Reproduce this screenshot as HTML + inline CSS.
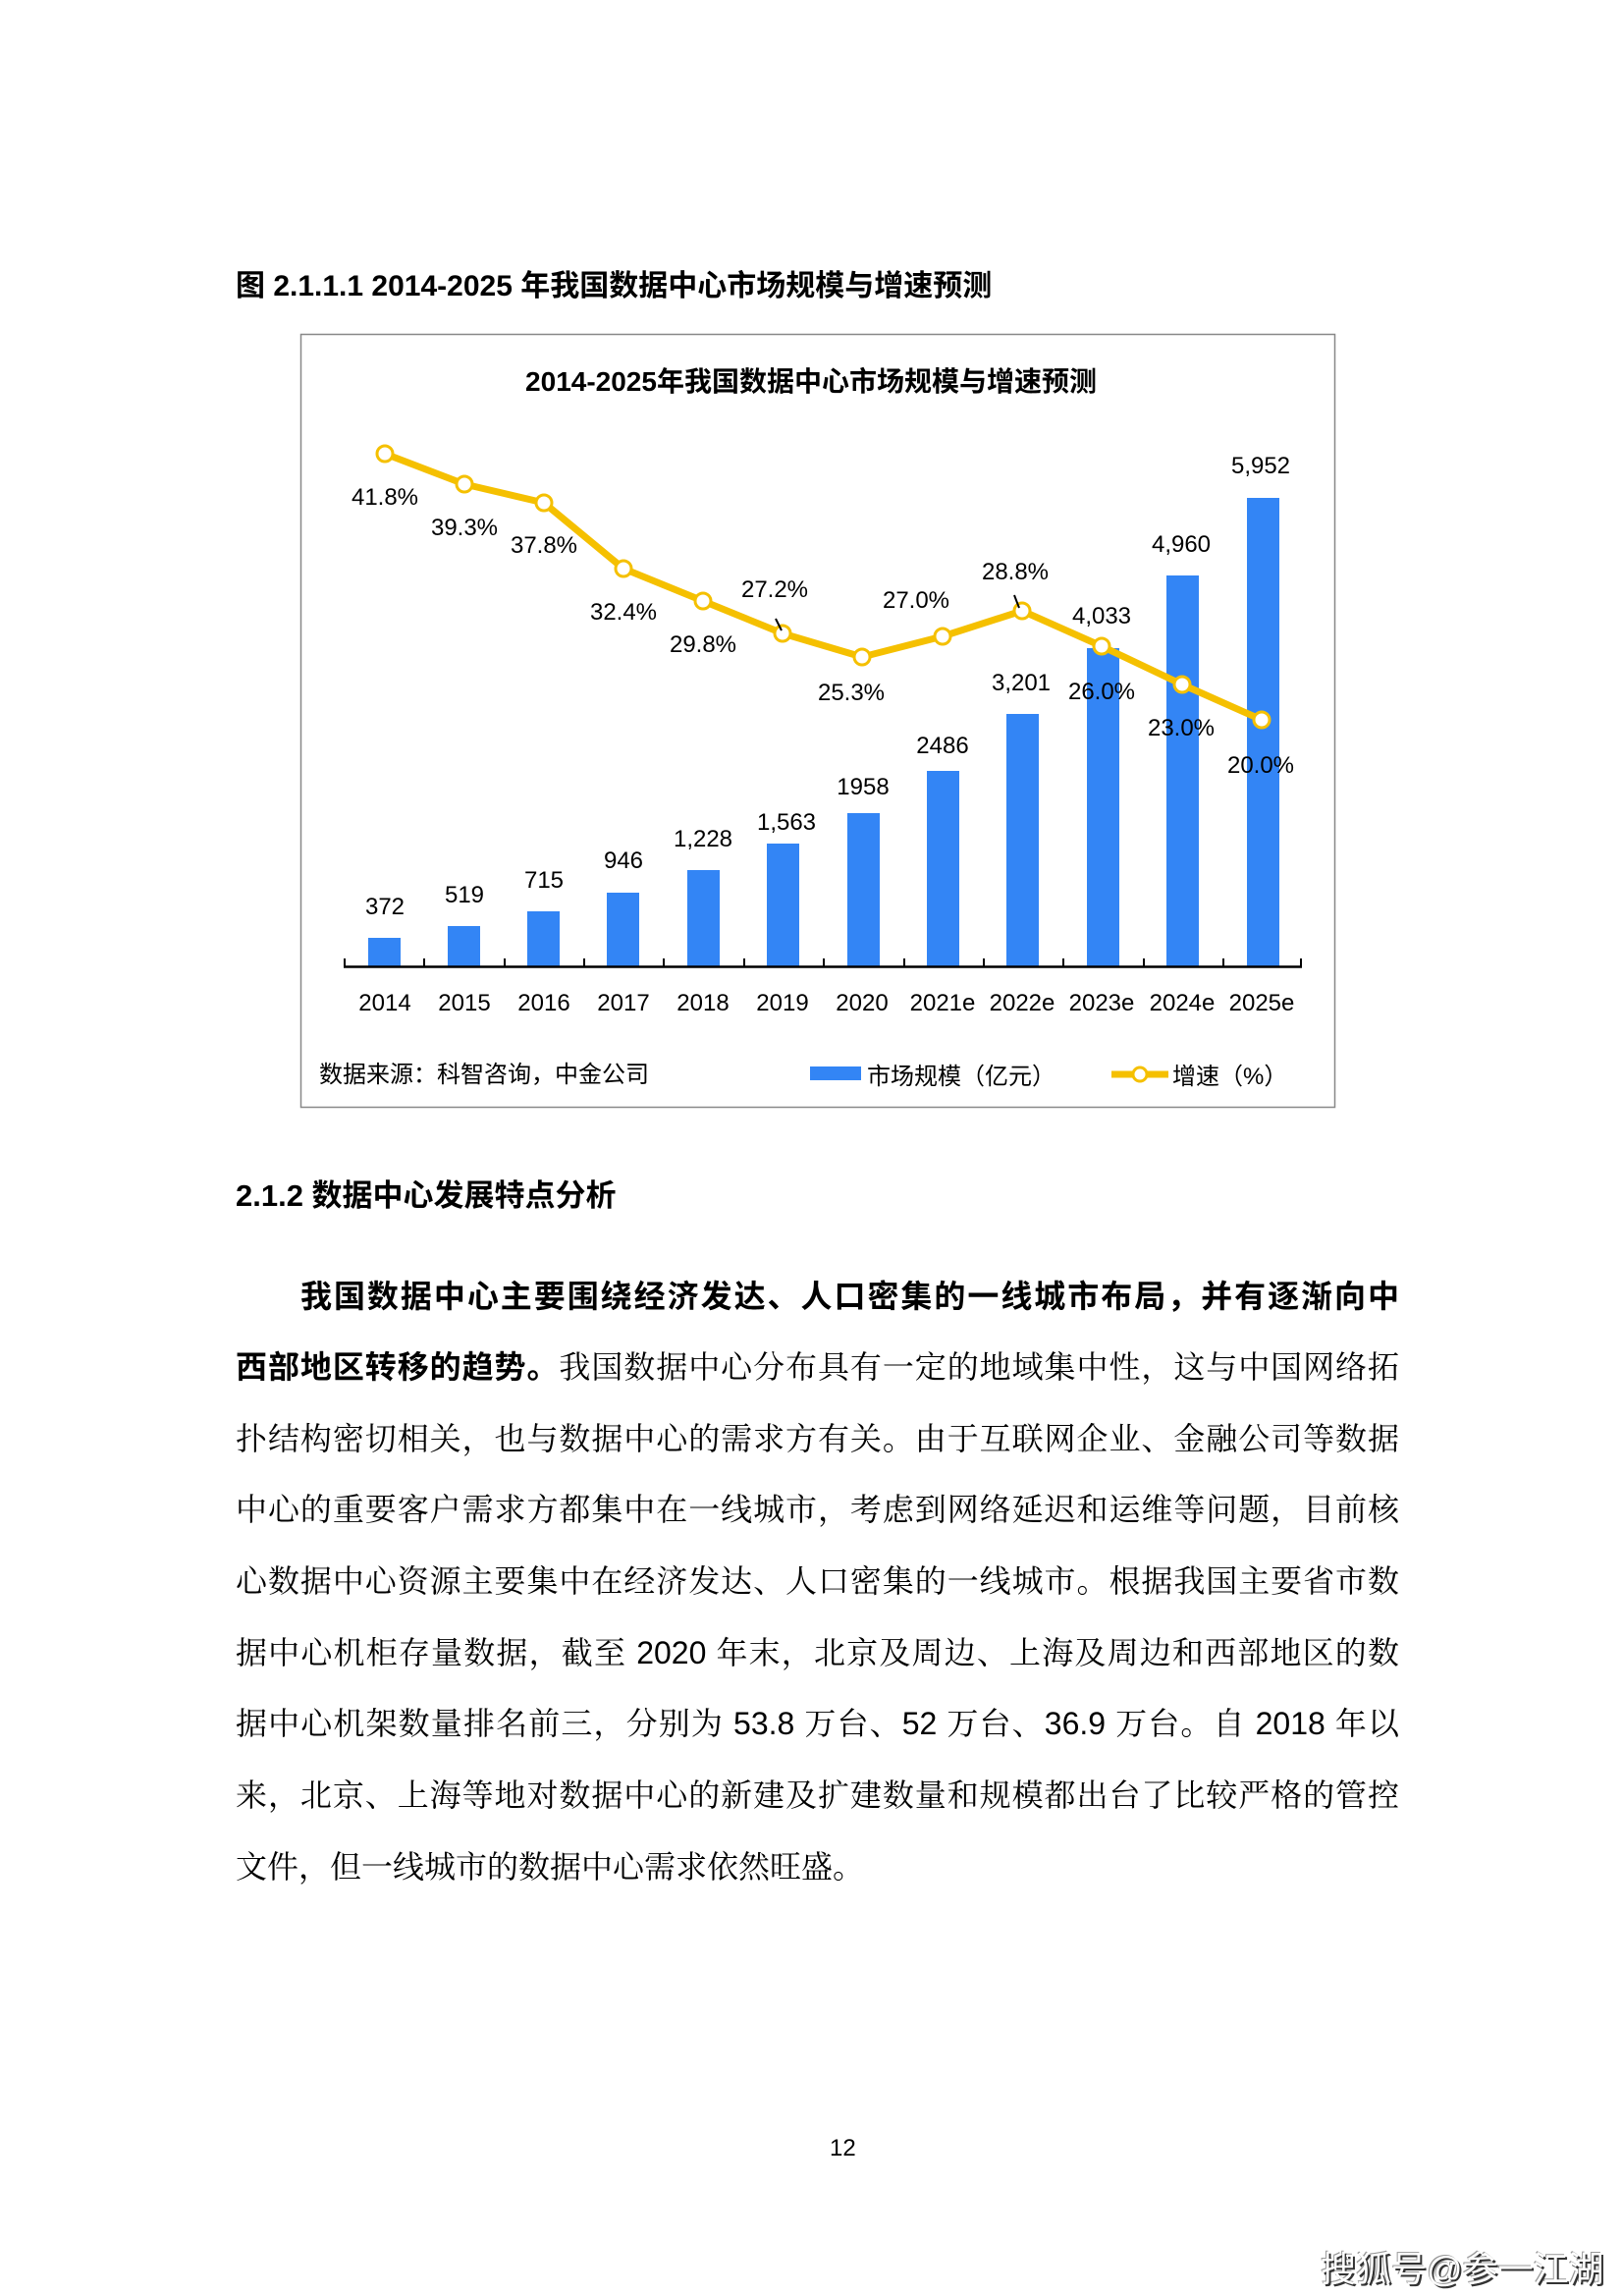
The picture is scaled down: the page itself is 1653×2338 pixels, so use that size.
<!DOCTYPE html>
<html><head><meta charset="utf-8">
<style>
html,body{margin:0;padding:0;background:#fff;}
body{width:1653px;height:2338px;position:relative;overflow:hidden;font-family:"Liberation Sans","Noto Sans CJK SC",sans-serif;color:#000;}
.abs{position:absolute;white-space:nowrap;}
.p{position:absolute;left:240px;width:1185px;font-family:"Liberation Sans","Noto Serif CJK SC",serif;font-size:32px;text-align:justify;text-align-last:justify;white-space:nowrap;line-height:40px;}
b{font-family:"Liberation Sans","Noto Sans CJK SC",sans-serif;font-weight:bold;}
</style></head><body>
<div class="abs" style="left:240px;top:266px;font-size:30px;font-weight:bold;">图 2.1.1.1 2014-2025 年我国数据中心市场规模与增速预测</div>

<svg class="abs" style="left:0;top:0" width="1653" height="1200" xmlns="http://www.w3.org/2000/svg" font-family="Liberation Sans, Noto Sans CJK SC, sans-serif">
<rect x="306.5" y="340.5" width="1053" height="787" fill="#fff" stroke="#888" stroke-width="1.5"/>
<text x="826" y="398" font-size="28" font-weight="bold" text-anchor="middle">2014-2025年我国数据中心市场规模与增速预测</text>
<g fill="#3385f5">
<rect x="375" y="955" width="33" height="29"/>
<rect x="456" y="943" width="33" height="41"/>
<rect x="537" y="928" width="33" height="56"/>
<rect x="618" y="909" width="33" height="75"/>
<rect x="700" y="886" width="33" height="98"/>
<rect x="781" y="859" width="33" height="125"/>
<rect x="863" y="828" width="33" height="156"/>
<rect x="944" y="785" width="33" height="199"/>
<rect x="1025" y="727" width="33" height="257"/>
<rect x="1107" y="660" width="33" height="324"/>
<rect x="1188" y="586" width="33" height="398"/>
<rect x="1270" y="507" width="33" height="477"/>
</g>
<line x1="350" y1="984.5" x2="1326" y2="984.5" stroke="#000" stroke-width="2.5"/>
<g stroke="#000" stroke-width="2">
<line x1="351" y1="976" x2="351" y2="985"/><line x1="432" y1="976" x2="432" y2="985"/><line x1="514" y1="976" x2="514" y2="985"/><line x1="595" y1="976" x2="595" y2="985"/><line x1="676" y1="976" x2="676" y2="985"/><line x1="758" y1="976" x2="758" y2="985"/><line x1="839" y1="976" x2="839" y2="985"/><line x1="921" y1="976" x2="921" y2="985"/><line x1="1002" y1="976" x2="1002" y2="985"/><line x1="1083" y1="976" x2="1083" y2="985"/><line x1="1165" y1="976" x2="1165" y2="985"/><line x1="1246" y1="976" x2="1246" y2="985"/><line x1="1325" y1="976" x2="1325" y2="985"/>
</g>
<polyline fill="none" stroke="#f5c000" stroke-width="7" stroke-linejoin="round" points="392,462 473,493 554,512 635,579 716,612 797,645 878,669 960,648 1041,622 1122,658 1204,697 1285,733"/>
<g fill="#fff" stroke="#f5c000" stroke-width="3">
<circle cx="392" cy="462" r="8"/><circle cx="473" cy="493" r="8"/><circle cx="554" cy="512" r="8"/><circle cx="635" cy="579" r="8"/><circle cx="716" cy="612" r="8"/><circle cx="797" cy="645" r="8"/><circle cx="878" cy="669" r="8"/><circle cx="960" cy="648" r="8"/><circle cx="1041" cy="622" r="8"/><circle cx="1122" cy="658" r="8"/><circle cx="1204" cy="697" r="8"/><circle cx="1285" cy="733" r="8"/>
</g>
<g stroke="#000" stroke-width="2"><line x1="790" y1="630" x2="796" y2="642"/><line x1="1033" y1="606" x2="1038" y2="619"/></g>
<g font-size="24" text-anchor="middle" fill="#000">
<text x="392" y="514">41.8%</text><text x="473" y="545">39.3%</text><text x="554" y="563">37.8%</text><text x="635" y="631">32.4%</text><text x="716" y="664">29.8%</text><text x="789" y="608">27.2%</text><text x="867" y="713">25.3%</text><text x="933" y="619">27.0%</text><text x="1034" y="590">28.8%</text><text x="1122" y="712">26.0%</text><text x="1203" y="749">23.0%</text><text x="1284" y="787">20.0%</text>
<text x="392" y="931">372</text><text x="473" y="919">519</text><text x="554" y="904">715</text><text x="635" y="884">946</text><text x="716" y="862">1,228</text><text x="801" y="845">1,563</text><text x="879" y="809">1958</text><text x="960" y="767">2486</text><text x="1040" y="703">3,201</text><text x="1122" y="635">4,033</text><text x="1203" y="562">4,960</text><text x="1284" y="482">5,952</text>
</g>
<g font-size="24" text-anchor="middle">
<text x="392" y="1029">2014</text><text x="473" y="1029">2015</text><text x="554" y="1029">2016</text><text x="635" y="1029">2017</text><text x="716" y="1029">2018</text><text x="797" y="1029">2019</text><text x="878" y="1029">2020</text><text x="960" y="1029">2021e</text><text x="1041" y="1029">2022e</text><text x="1122" y="1029">2023e</text><text x="1204" y="1029">2024e</text><text x="1285" y="1029">2025e</text>
</g>
<text x="325" y="1102" font-size="24">数据来源：科智咨询，中金公司</text>
<rect x="825" y="1086" width="52" height="14" fill="#3385f5"/>
<text x="883" y="1104" font-size="24">市场规模（亿元）</text>
<line x1="1132" y1="1094" x2="1190" y2="1094" stroke="#f5c000" stroke-width="7"/>
<circle cx="1161" cy="1094" r="7" fill="#fff" stroke="#f5c000" stroke-width="3"/>
<text x="1194" y="1104" font-size="24">增速（%）</text>
</svg>

<div class="abs" style="left:240px;top:1192px;font-size:31px;font-weight:bold;">2.1.2 数据中心发展特点分析</div>

<div class="p" style="top:1300px;left:306px;width:1119px;"><b>我国数据中心主要围绕经济发达、人口密集的一线城市布局，并有逐渐向中</b></div>
<div class="p" style="top:1372px;"><b>西部地区转移的趋势。</b>我国数据中心分布具有一定的地域集中性，这与中国网络拓</div>
<div class="p" style="top:1445px;">扑结构密切相关，也与数据中心的需求方有关。由于互联网企业、金融公司等数据</div>
<div class="p" style="top:1517px;">中心的重要客户需求方都集中在一线城市，考虑到网络延迟和运维等问题，目前核</div>
<div class="p" style="top:1590px;">心数据中心资源主要集中在经济发达、人口密集的一线城市。根据我国主要省市数</div>
<div class="p" style="top:1663px;">据中心机柜存量数据，截至 2020 年末，北京及周边、上海及周边和西部地区的数</div>
<div class="p" style="top:1735px;">据中心机架数量排名前三，分别为 53.8 万台、52 万台、36.9 万台。自 2018 年以</div>
<div class="p" style="top:1808px;">来，北京、上海等地对数据中心的新建及扩建数量和规模都出台了比较严格的管控</div>
<div class="p" style="top:1881px;text-align-last:left;">文件，但一线城市的数据中心需求依然旺盛。</div>

<div class="abs" style="left:845px;top:2174px;font-size:24px;">12</div>
<div class="abs" style="left:1345px;top:2282px;font-size:36px;color:#fff;text-shadow:2px 2px 0 #333,-1px -1px 0 #999;">搜狐号@参一江湖</div>
</body></html>
